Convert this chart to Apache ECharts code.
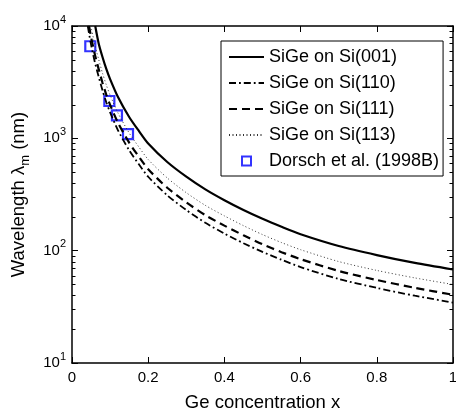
<!DOCTYPE html>
<html><head><meta charset="utf-8">
<script src="https://cdn.jsdelivr.net/npm/echarts@6/dist/echarts.min.js"></script>
<style>html,body{margin:0;padding:0;background:#fff}#c{width:456px;height:412px}</style>
</head><body><div id="c"></div>
<script>
// ---- data ----
const seriesNames = ['SiGe on Si(001)', 'SiGe on Si(110)', 'SiGe on Si(111)', 'SiGe on Si(113)', 'Dorsch et al. (1998B)'];

const si001X = [0.061, 0.07, 0.08, 0.09, 0.1, 0.12, 0.15, 0.175, 0.2, 0.25, 0.3, 0.35, 0.4, 0.45, 0.5, 0.55, 0.6, 0.7, 0.8, 0.9, 1.0];
const si001Y = [10000, 7000, 5300, 4150, 3370, 2360, 1550, 1170, 900, 616, 456, 351, 281, 230, 192, 163, 140, 110, 91.4, 77.8, 68];

const si110X = [0.0414, 0.05, 0.06, 0.07, 0.08, 0.09, 0.1, 0.12, 0.15, 0.175, 0.2, 0.25, 0.3, 0.35, 0.4, 0.45, 0.5, 0.55, 0.6, 0.7, 0.8, 0.9, 1.0];
const si110Y = [10000, 6828, 4767, 3535, 2677, 2096, 1702, 1192, 783, 591, 455, 311, 230, 177, 142, 116.5, 97.5, 83, 71.4, 56, 46.6, 39.7, 34.5];

const si111X = [0.0448, 0.05, 0.06, 0.07, 0.08, 0.09, 0.1, 0.12, 0.15, 0.175, 0.2, 0.25, 0.3, 0.35, 0.4, 0.45, 0.5, 0.55, 0.6, 0.7, 0.8, 0.9, 1.0];
const si111Y = [10000, 7977, 5570, 4130, 3127, 2449, 1988, 1392, 915, 690, 531, 363, 269, 207, 167, 137, 114, 97, 84, 66, 54.8, 46.7, 40.5];

const si113X = [0.0495, 0.06, 0.07, 0.08, 0.09, 0.1, 0.12, 0.15, 0.175, 0.2, 0.25, 0.3, 0.35, 0.4, 0.45, 0.5, 0.55, 0.6, 0.7, 0.8, 0.9, 1.0];
const si113Y = [10000, 6800, 5040, 3816, 2988, 2426, 1700, 1116, 842, 648, 444, 328, 253, 204, 167, 139, 118, 102, 80, 66.7, 57.2, 50];

const dorschX = [0.048, 0.098, 0.118, 0.147];
const dorschY = [6600, 2150, 1600, 1090];

const xTicks = [0, 0.2, 0.4, 0.6, 0.8, 1];
const yMinor = [20,30,40,50,60,70,80,90,200,300,400,500,600,700,800,900,2000,3000,4000,5000,6000,7000,8000,9000];

// ---- build ----
const zip = (xs, ys) => xs.map((x, i) => [x, ys[i]]);
const FONT = '"Liberation Sans", Arial, Helvetica, sans-serif';
const chart = echarts.init(document.getElementById('c'), null, {renderer: 'canvas'});

function majorY(pos, showLabels) {
  return {
    type: 'log', logBase: 10, min: 10, max: 10000, position: pos,
    axisLine: {show: true, onZero: false, lineStyle: {color: '#000', width: 1.5}},
    axisTick: {show: true, inside: true, length: 6, lineStyle: {color: '#000', width: 1}},
    splitLine: {show: false},
    axisLabel: showLabels ? {
      show: true, margin: 6,
      formatter: v => '{b|10}{s|' + Math.round(Math.log10(v)) + '}',
      rich: {
        b: {fontFamily: FONT, fontSize: 15, color: '#000', lineHeight: 24},
        s: {fontFamily: FONT, fontSize: 11, color: '#000', lineHeight: 11, verticalAlign: 'top'}
      }
    } : {show: false},
    name: showLabels ? '{a|Wavelength λ}{m|m}{a| (nm)}' : '',
    nameLocation: 'middle', nameGap: 40, nameRotate: 90,
    nameTextStyle: {
      rich: {
        a: {fontFamily: FONT, fontSize: 18.5, color: '#000', lineHeight: 26},
        m: {fontFamily: FONT, fontSize: 13, color: '#000', lineHeight: 13, verticalAlign: 'bottom'}
      }
    }
  };
}

// minor log ticks on both frame sides, placed through the y scale
function minorTickItem(params, api) {
  const cs = params.coordSys;
  const p = api.coord([0, api.value(1)]);
  const y = Math.round(p[1]) + 0.5;
  const st = {stroke: '#000', lineWidth: 1};
  return {
    type: 'group',
    children: [
      {type: 'line', shape: {x1: cs.x, y1: y, x2: cs.x + 3.5, y2: y}, style: st},
      {type: 'line', shape: {x1: cs.x + cs.width - 3.5, y1: y, x2: cs.x + cs.width, y2: y}, style: st}
    ]
  };
}

const option = {
  animation: false,
  backgroundColor: '#fff',
  grid: {left: 72, right: 3, top: 26, bottom: 49, containLabel: false, outerBoundsMode: 'none'},
  xAxis: [
    {
      type: 'value', min: 0, max: 1, interval: 0.2, position: 'bottom',
      axisLine: {onZero: false, lineStyle: {color: '#000', width: 1.5}},
      axisTick: {inside: true, length: 6, lineStyle: {color: '#000'}},
      splitLine: {show: false},
      axisLabel: {margin: 7, color: '#000', fontFamily: FONT, fontSize: 15,
        formatter: v => String(+v.toFixed(1))},
      name: 'Ge concentration x', nameLocation: 'middle', nameGap: 30,
      nameTextStyle: {fontFamily: FONT, fontSize: 18.5, color: '#000'}
    },
    {
      type: 'value', min: 0, max: 1, interval: 0.2, position: 'top',
      axisLine: {onZero: false, lineStyle: {color: '#000', width: 1.5}},
      axisTick: {inside: true, length: 6, lineStyle: {color: '#000'}},
      splitLine: {show: false}, axisLabel: {show: false}
    }
  ],
  yAxis: [
    majorY('left', true),
    majorY('right', false)
  ],
  legend: {
    orient: 'vertical', left: 221, top: 41,
    padding: [7, 4, 6, 7],
    itemWidth: 35, itemHeight: 9, itemGap: 8,
    borderColor: '#000', borderWidth: 1, backgroundColor: '#fff',
    textStyle: {fontFamily: FONT, fontSize: 18, color: '#000', lineHeight: 18},
    data: [
      seriesNames[0], seriesNames[1], seriesNames[2], seriesNames[3],
      {name: seriesNames[4], icon: 'path://M0,0L10,0L10,10L0,10Z'}
    ]
  },
  series: [
    {name: 'minorTicks', type: 'custom', xAxisIndex: 0, yAxisIndex: 0, silent: true, clip: false,
     data: yMinor.map(v => [0, v]), renderItem: minorTickItem, z: 1},
    {name: seriesNames[0], type: 'line', data: zip(si001X, si001Y), symbol: 'none', smooth: 0.25,
     lineStyle: {color: '#000', width: 2.2, type: 'solid'}, itemStyle: {color: 'rgba(0,0,0,0)'}},
    {name: seriesNames[1], type: 'line', data: zip(si110X, si110Y), symbol: 'none', smooth: 0.25,
     lineStyle: {color: '#000', width: 1.8, type: [7, 3, 1.8, 3]}, itemStyle: {color: 'rgba(0,0,0,0)'}},
    {name: seriesNames[2], type: 'line', data: zip(si111X, si111Y), symbol: 'none', smooth: 0.25,
     lineStyle: {color: '#000', width: 2.2, type: [8, 5]}, itemStyle: {color: 'rgba(0,0,0,0)'}},
    {name: seriesNames[3], type: 'line', data: zip(si113X, si113Y), symbol: 'none', smooth: 0.25,
     lineStyle: {color: '#333', width: 1, type: [1, 2.5]}, itemStyle: {color: 'rgba(0,0,0,0)'}},
    {name: seriesNames[4], type: 'scatter', data: zip(dorschX, dorschY), symbol: 'rect', symbolSize: 10,
     itemStyle: {color: '#fff', borderColor: '#0000ff', borderWidth: 2.2}}
  ]
};
chart.setOption(option);
</script></body></html>
